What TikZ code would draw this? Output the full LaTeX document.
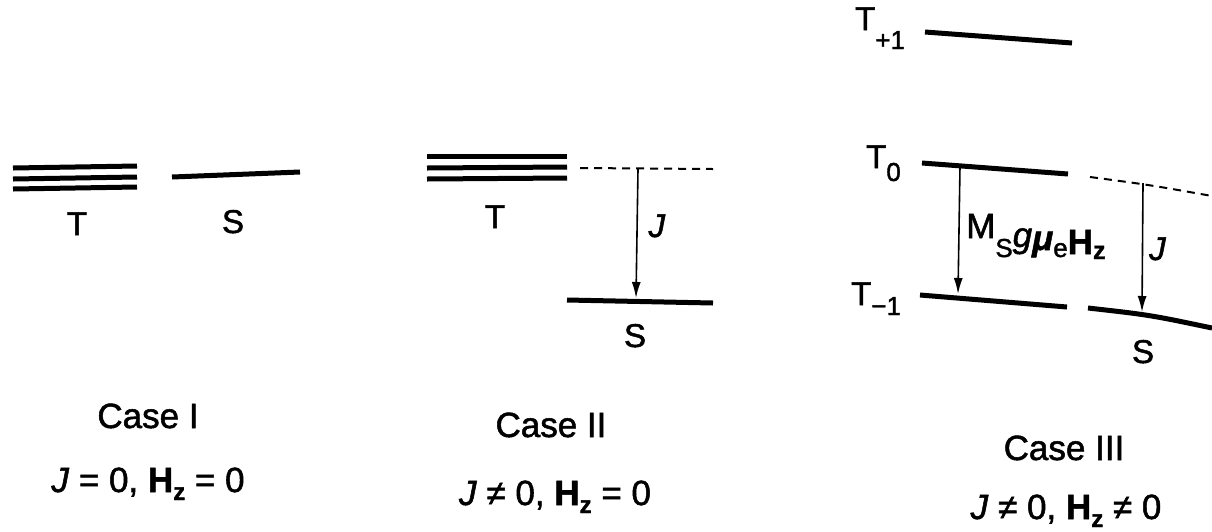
\documentclass[tikz,border=0pt]{standalone}
\usepackage{fontspec}
\setmainfont{Liberation Sans}[FakeBold=1.5]
\usetikzlibrary{arrows.meta}
\newcommand\lowsub[3]{\raisebox{-#1}{\fontsize{#2}{#2}\selectfont #3}}
\begin{document}
\begin{tikzpicture}[x=1pt,y=-1pt,
  level/.style={line width=5pt},
  dashlevel/.style={line width=2pt, dash pattern=on 8pt off 6pt},
  gaparrow/.style={-{Latex[length=16pt,width=9pt]}, line width=1.6pt},
  lbl/.style={font=\fontsize{33}{38}\selectfont, inner sep=0pt, anchor=base},
  lblw/.style={font=\fontsize{33}{38}\selectfont, inner sep=0pt, anchor=base west},
  caselbl/.style={font=\fontsize{35}{40}\selectfont, inner sep=0pt, anchor=base}]
\useasboundingbox (0,0) rectangle (1212,531);

% ---------- Case I ----------
\coordinate (a1l) at (13,168); \coordinate (a1r) at (137,166);
\coordinate (a2l) at (13,179); \coordinate (a2r) at (137,177);
\coordinate (a3l) at (13,189); \coordinate (a3r) at (137,187);
\coordinate (aSl) at (172,177); \coordinate (aSr) at (300,172);
\draw[level] (a1l) -- (a1r);
\draw[level] (a2l) -- (a2r);
\draw[level] (a3l) -- (a3r);
\draw[level] (aSl) -- (aSr);
\node[lbl] (aT) at (77,235) {T};
\node[lbl] (aS) at (233,233) {S};
\node[caselbl] (acase) at (148,428) {Case I};
\node[caselbl] (acond) at (148,492) {\textit{J} = 0, \textbf{H}\lowsub{8pt}{24}{\bfseries z} = 0};

% ---------- Case II ----------
\coordinate (b1l) at (427,156); \coordinate (b1r) at (567,156);
\coordinate (b2l) at (427,168); \coordinate (b2r) at (567,167);
\coordinate (b3l) at (427,179); \coordinate (b3r) at (567,178);
\coordinate (bDl) at (580,168); \coordinate (bDr) at (713,169);
\coordinate (bSl) at (567,300); \coordinate (bSr) at (713,303);
\coordinate (bJtop) at (638,169); \coordinate (bJbot) at (636,298);
\draw[level] (b1l) -- (b1r);
\draw[level] (b2l) -- (b2r);
\draw[level] (b3l) -- (b3r);
\draw[dashlevel] (bDl) -- (bDr);
\draw[level] (bSl) -- (bSr);
\draw[gaparrow] (bJtop) -- (bJbot);
\node[lbl] (bT) at (495,228) {T};
\node[lbl] (bJ) at (657,237) {\textit{J}};
\node[lbl] (bS) at (635,347) {S};
\node[caselbl] (bcase) at (551,437) {Case II};
\node[caselbl] (bcond) at (555,505) {\textit{J} ≠ 0, \textbf{H}\lowsub{8pt}{24}{\bfseries z} = 0};

% ---------- Case III ----------
\coordinate (cPl) at (925,32); \coordinate (cPr) at (1072,43);
\coordinate (c0l) at (922,163); \coordinate (c0r) at (1068,174);
\coordinate (cDl) at (1090,177); \coordinate (cDr) at (1212,196);
\coordinate (cMl) at (920,295); \coordinate (cMr) at (1067,307);
\coordinate (cSl) at (1088,308); \coordinate (cSr) at (1212,328);
\coordinate (cA1t) at (960,166); \coordinate (cA1b) at (958,294);
\coordinate (cA2t) at (1143,183); \coordinate (cA2b) at (1142,312);
\draw[level] (cPl) -- (cPr);
\draw[level] (c0l) -- (c0r);
\draw[dashlevel] (cDl) .. controls (1150,185) .. (cDr);
\draw[level] (cMl) -- (cMr);
\draw[level] (cSl) .. controls (1150,315) .. (cSr);
\draw[gaparrow] (cA1t) -- (cA1b);
\draw[gaparrow] (cA2t) -- (cA2b);
\node[lblw] (cTp) at (855,30) {T\lowsub{19pt}{26}{+1}};
\node[lblw] (cT0) at (866,168) {T\lowsub{13pt}{26}{0}};
\node[lblw] (cTm) at (851,305) {T\lowsub{10pt}{26}{−1}};
\node[inner sep=0pt, anchor=base west, font=\fontsize{35}{40}\selectfont] (cM) at (966,238)
  {M\lowsub{19pt}{26}{S}\raisebox{-9pt}{\textit{g}}\raisebox{-12pt}{\bfseries\itshape μ}\lowsub{19pt}{26}{e}\raisebox{-16pt}{\bfseries H}\lowsub{21pt}{25}{\bfseries z}};
\node[lblw] (cJ) at (1149,260) {\textit{J}};
\node[lbl] (cS) at (1143,363) {S};
\node[caselbl] (ccase) at (1064,460) {Case III};
\node[caselbl] (ccond) at (1066,519) {\textit{J} ≠ 0, \textbf{H}\lowsub{8pt}{24}{\bfseries z} ≠ 0};
\end{tikzpicture}
\end{document}
